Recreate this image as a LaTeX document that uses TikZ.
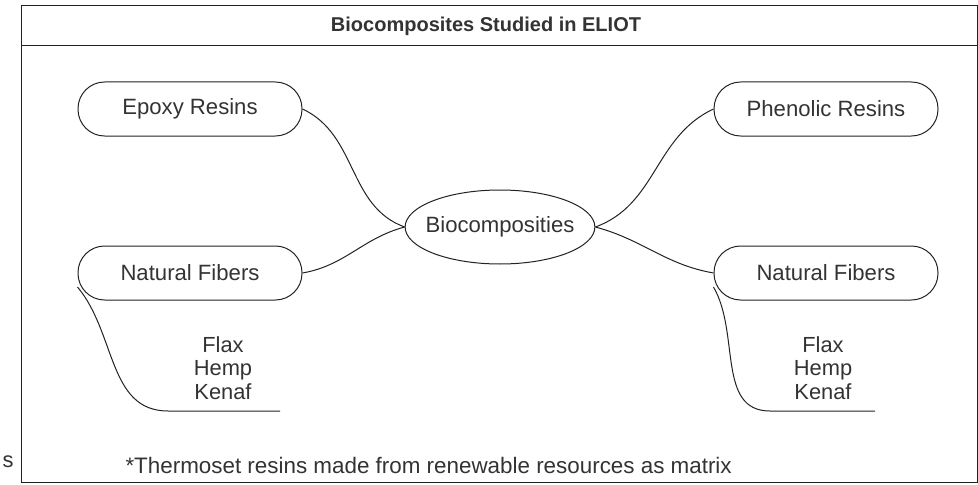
\documentclass[tikz,border=0pt]{standalone}
\usepackage{fontspec}
\setmainfont{Liberation Sans}
\usetikzlibrary{shapes.geometric}

\definecolor{inkline}{RGB}{34,34,34}
\definecolor{inktext}{RGB}{51,51,51}

\tikzset{every picture/.style={line width=0.75pt}}
\tikzset{
  pill/.style={draw=inkline, rectangle, rounded corners=20pt, minimum width=168pt, minimum height=40.5pt, inner sep=0pt, text=inktext, font=\fontsize{16.6}{18}\selectfont},
  hub/.style={draw=inkline, ellipse, minimum width=138.75pt, minimum height=55.5pt, inner xsep=-5.5pt, inner ysep=0pt, text=inktext, font=\fontsize{16.6}{18}\selectfont},
  plain/.style={text=inktext, inner sep=0pt, font=\fontsize{16.4}{17.6}\selectfont, align=center},
  link/.style={draw=inkline}
}

\begin{document}
\begin{tikzpicture}[x=0.75pt,y=0.75pt,yscale=-1,xscale=1]
\useasboundingbox (0,0) rectangle (978,485);

%Frame and title band
\draw [color=inkline] (21,6) rectangle (977,482) ;
\draw [color=inkline] (21,46) -- (977,46) ;
% Text Node
\node (title) at (486,26) [plain, font=\fontsize{15}{17}\selectfont\bfseries] {Biocomposites Studied in ELIOT};

%Shapes
\node (epoxy) at (190,109) [pill] {Epoxy Resins};
\node (phenolic) at (826,109) [pill] {Phenolic Resins};
\node (bio) at (500,227) [hub] {Biocomposities};
\node (nfl) at (190,273) [pill] {Natural Fibers};
\node (nfr) at (826,273) [pill] {Natural Fibers};

%Curves to the hub (angles flipped by yscale=-1)
\draw [link] (epoxy.east) to [out=25, in=200] (bio.west) ;
\draw [link] (nfl.east) to [out=-10, in=165] (bio.west) ;
\draw [link] (phenolic.west) to [out=155, in=-20] (bio.east) ;
\draw [link] (bio.east) to [out=15, in=190] (nfr.west) ;

%Brackets under the fibers
\coordinate (nflfoot) at ([yshift=10.5pt]nfl.west) ;
\coordinate (nflbend) at (168,411) ;
\coordinate (nflend) at (280,411) ;
\draw [link] (nflfoot) to [out=50, in=180] (nflbend) -- (nflend) ;
\coordinate (nfrfoot) at ([yshift=10.5pt]nfr.west) ;
\coordinate (nfrbend) at (770,411) ;
\coordinate (nfrend) at (875,411) ;
\draw [link] (nfrfoot) to [out=60, in=180] (nfrbend) -- (nfrend) ;

% Text Node
\node (listl) at (223,368) [plain] {Flax\\Hemp\\Kenaf};
% Text Node
\node (listr) at (823,368) [plain] {Flax\\Hemp\\Kenaf};
% Text Node
\node (note) at (125,465) [plain, anchor=west, font=\fontsize{16.8}{18}\selectfont] {*Thermoset resins made from renewable resources as matrix};
% Text Node
\node (stray) at (2,462) [plain, anchor=west] {s};

\end{tikzpicture}
\end{document}
